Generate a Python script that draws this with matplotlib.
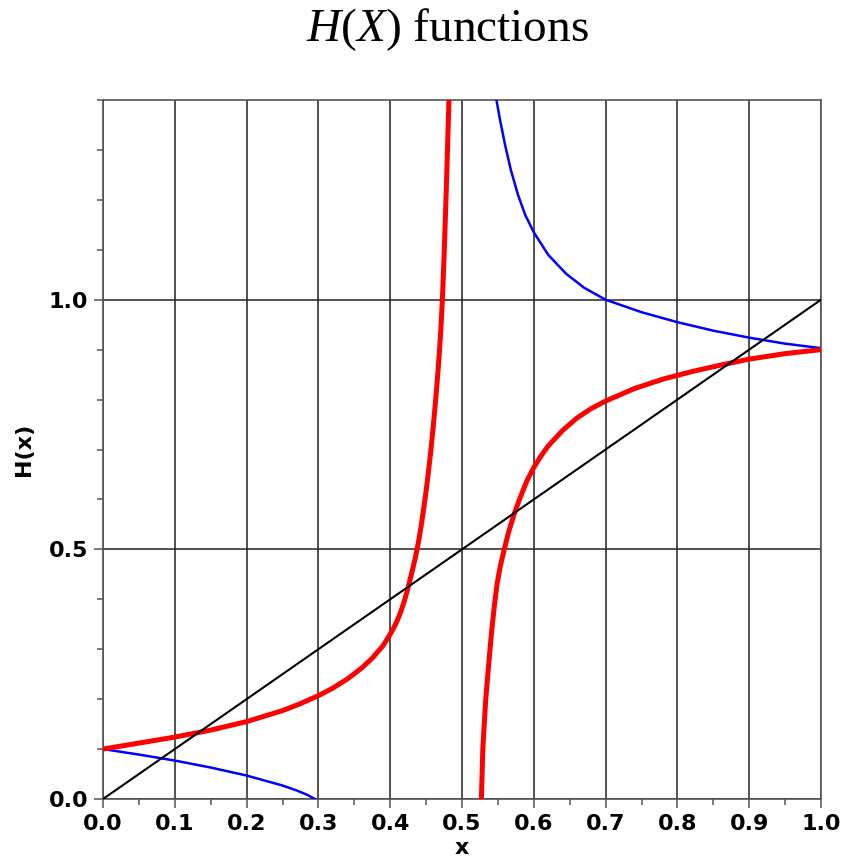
import matplotlib
matplotlib.use("Agg")
import matplotlib.pyplot as plt
from matplotlib.ticker import MultipleLocator

# curves
red_left_x = [0.0, 0.05, 0.1, 0.15, 0.2, 0.25, 0.275, 0.3, 0.32, 0.34, 0.36, 0.375,
              0.39, 0.4, 0.405, 0.41, 0.415, 0.42, 0.425, 0.43, 0.434, 0.437, 0.44,
              0.443, 0.446, 0.45, 0.453, 0.456, 0.459, 0.462, 0.465, 0.468, 0.4705,
              0.4728, 0.475, 0.477, 0.479, 0.4808, 0.4818]
red_left_y = [0.1, 0.112, 0.124, 0.138, 0.155, 0.177, 0.191, 0.207, 0.222, 0.24,
              0.262, 0.282, 0.307, 0.33, 0.343, 0.358, 0.376, 0.398, 0.424, 0.453,
              0.477, 0.497, 0.52, 0.546, 0.575, 0.617, 0.652, 0.69, 0.732, 0.778,
              0.828, 0.884, 0.94, 1.005, 1.085, 1.17, 1.262, 1.35, 1.4]

red_right_x = [0.527, 0.528, 0.529, 0.531, 0.533, 0.536, 0.541, 0.545, 0.549, 0.553,
               0.5585, 0.565, 0.572, 0.58, 0.59, 0.6, 0.61, 0.62, 0.64, 0.66, 0.68,
               0.7, 0.74, 0.78, 0.82, 0.86, 0.9, 0.95, 1.0]
red_right_y = [0.0, 0.05, 0.1, 0.15, 0.198, 0.25, 0.332, 0.386, 0.432, 0.464,
               0.498, 0.535, 0.568, 0.6, 0.636, 0.664, 0.687, 0.707, 0.738, 0.763,
               0.782, 0.797, 0.822, 0.841, 0.856, 0.869, 0.881, 0.892, 0.9]

blue_low_x = [0.0, 0.05, 0.1, 0.15, 0.2, 0.25, 0.27, 0.285, 0.295]
blue_low_y = [0.1, 0.089, 0.077, 0.063, 0.047, 0.027, 0.017, 0.008, 0.0]

blue_up_x = [0.548, 0.553, 0.56, 0.568, 0.578, 0.588, 0.6, 0.62, 0.645, 0.67, 0.7,
             0.75, 0.8, 0.85, 0.9, 0.95, 1.0]
blue_up_y = [1.4, 1.36, 1.31, 1.26, 1.21, 1.17, 1.135, 1.09, 1.052, 1.024, 1.0,
             0.975, 0.955, 0.938, 0.924, 0.912, 0.903]

diag_x = [0.0, 1.0]
diag_y = [0.0, 1.0]

plt.rcParams['mathtext.fontset'] = 'custom'
plt.rcParams['mathtext.rm'] = 'Liberation Serif'
plt.rcParams['mathtext.it'] = 'Liberation Serif:italic'

fig = plt.figure(figsize=(8.44, 8.58), dpi=100)
ax = fig.add_axes([103 / 844, 1 - 799 / 858, 718 / 844, 699 / 858])

ax.plot(blue_low_x, blue_low_y, color='#0000ff', lw=1.8, zorder=3)
ax.plot(blue_up_x, blue_up_y, color='#0000ff', lw=1.8, zorder=3)
ax.plot(red_left_x, red_left_y, color='#ff0000', lw=3.6, zorder=4)
ax.plot(red_right_x, red_right_y, color='#ff0000', lw=3.6, zorder=4)
ax.plot(diag_x, diag_y, color='black', lw=1.5, zorder=5)

ax.set_xlim(0, 1)
ax.set_ylim(0, 1.4)
ax.xaxis.set_major_locator(MultipleLocator(0.1))
ax.xaxis.set_minor_locator(MultipleLocator(0.05))
ax.yaxis.set_major_locator(MultipleLocator(0.5))
ax.yaxis.set_minor_locator(MultipleLocator(0.1))
ax.xaxis.set_major_formatter(lambda v, pos: f"{v:.1f}")
ax.yaxis.set_major_formatter(lambda v, pos: f"{v:.1f}")

ax.grid(True, which='major', color='#222222', lw=1.1, zorder=1)
for s in ax.spines.values():
    s.set_color('#555555')
    s.set_linewidth(1.2)
ax.tick_params(which='major', direction='out', length=6.5, width=1.1,
               color='#555555', labelsize=16, pad=4)
ax.tick_params(which='minor', direction='out', length=4, width=1.1, color='#555555')
for lab in ax.get_xticklabels() + ax.get_yticklabels():
    lab.set_fontweight('bold')

ax.set_xlabel('x', fontsize=16, fontweight='bold')
ax.set_ylabel('H(x)', fontsize=16, fontweight='bold')
ax.xaxis.set_label_coords(0.5, -0.056)
ax.yaxis.set_label_coords(-0.096, 0.5)

fig.text(447 / 844, 1 - 30 / 858, r'$H(X)$ functions', fontsize=34,
         family='Liberation Serif', ha='center', va='center')

fig.savefig('out.png', dpi=100)
